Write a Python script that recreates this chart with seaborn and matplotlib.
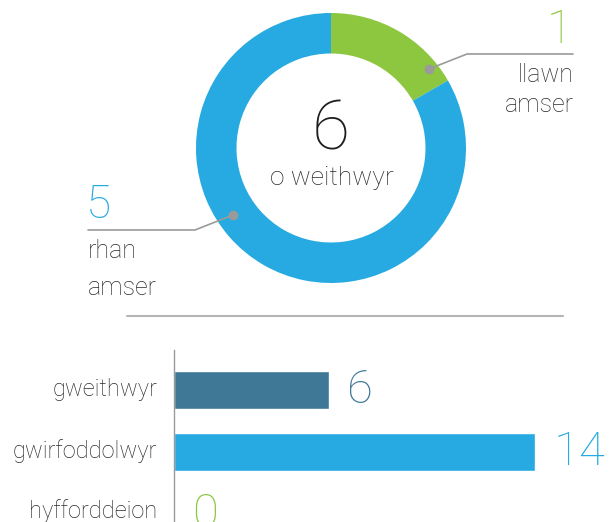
import matplotlib
matplotlib.use("Agg")
from matplotlib import pyplot as plt
import seaborn as sns

# donut data
donut_labels = ["llawn amser", "rhan amser"]
donut_values = [1, 5]
donut_total = sum(donut_values)

# bar data
bar_cats = ["gweithwyr", "gwirfoddolwyr", "hyfforddeion"]
bar_values = [6, 14, 0]

green = "#8DC63F"
blue = "#27AAE1"
dark = "#3F7897"
grey = "#9A9A9A"
txt = "#2B2B2B"

sns.set_style("white")
plt.rcParams["font.family"] = ["Roboto", "DejaVu Sans"]
plt.rcParams["font.weight"] = "light"

fig = plt.figure(figsize=(6.1, 5.22), dpi=100)
W, H = 610, 522

# donut
ax_d = fig.add_axes([196 / W, 1 - 283 / H, 270 / W, 270 / H])
ax_d.pie(donut_values, colors=[green, blue], startangle=90, counterclock=False,
         radius=1, wedgeprops=dict(width=0.30, linewidth=0))
ax_d.set_xlim(-1, 1)
ax_d.set_ylim(-1, 1)
ax_d.set_aspect("equal")
ax_d.axis("off")

# bars
ax_b = fig.add_axes([174 / W, 0, (W - 174) / W, 172 / H])
sns.barplot(x=bar_values, y=bar_cats, hue=bar_cats, palette=[dark, blue, green],
            orient="h", width=0.61, legend=False, ax=ax_b, saturation=1)
ax_b.set_xlim(0, 436 / 25.8)
ax_b.set_ylim(2.13, -0.645)
for s in ["top", "right", "bottom"]:
    ax_b.spines[s].set_visible(False)
ax_b.spines["left"].set_color(grey)
ax_b.spines["left"].set_linewidth(1)
ax_b.set_xticks([])
ax_b.set_yticks([-0.04, 0.94, 1.92], bar_cats)
ax_b.set_yticks([0.5, 1.5], minor=True)
ax_b.tick_params(axis="y", which="major", length=0, pad=12, labelsize=17, labelcolor=txt)
ax_b.tick_params(axis="y", which="minor", length=6, color=grey, width=1, direction="out")
ax_b.set_xlabel("")
ax_b.set_ylabel("")
for i, v in enumerate(bar_values):
    ax_b.text(v + 0.72, i, str(v), color=[dark, blue, green][i], fontsize=34,
              va="center", ha="left")

# overlay for annotations, pixel coordinates
ov = fig.add_axes([0, 0, 1, 1])
ov.set_xlim(0, W)
ov.set_ylim(H, 0)
ov.axis("off")
ov.patch.set_alpha(0)

ov.text(331, 150, str(donut_total), fontsize=50, ha="center", va="baseline", color="#1E1E1E")
ov.text(332, 185, "o weithwyr", fontsize=19, ha="center", va="baseline", color=txt)

# leader lines
ov.plot([429, 467, 573], [69, 54, 54], color=grey, lw=1.2)
ov.plot([429], [69], "o", color=grey, ms=6)
ov.plot([233, 195, 88], [215, 230, 230], color=grey, lw=1.2)
ov.plot([233], [215], "o", color=grey, ms=6)

ov.text(572, 43, str(donut_values[0]), fontsize=33, ha="right", va="baseline", color=green)
ov.text(574, 82, "llawn", fontsize=18, ha="right", va="baseline", color=txt)
ov.text(574, 112, "amser", fontsize=18, ha="right", va="baseline", color=txt)

ov.text(86, 218, str(donut_values[1]), fontsize=33, ha="left", va="baseline", color=blue)
ov.text(88, 258, "rhan", fontsize=18, ha="left", va="baseline", color=txt)
ov.text(88, 295, "amser", fontsize=18, ha="left", va="baseline", color=txt)

# separator
ov.plot([127, 563], [315.5, 315.5], color="#B5B5B5", lw=1.5)

fig.savefig("out.png", dpi=100)
